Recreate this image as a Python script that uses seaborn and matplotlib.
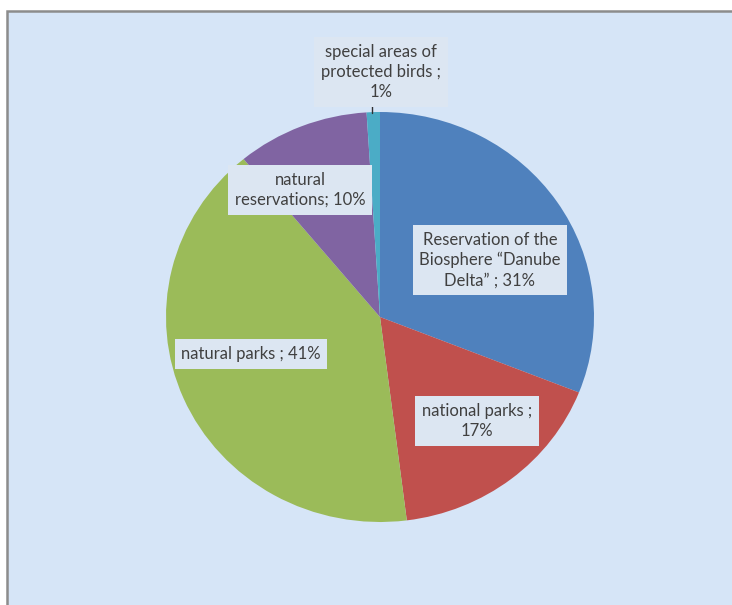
import matplotlib
matplotlib.use("Agg")
import matplotlib.pyplot as plt
import seaborn as sns

sns.set_style("white")
plt.rcParams["font.family"] = ["Lato", "DejaVu Sans"]

# Protected area categories and their shares (%)
categories = [
    "Reservation of the\nBiosphere \u201cDanube\nDelta\u201d",
    "national parks",
    "natural parks",
    "natural\nreservations",
    "special areas of\nprotected birds",
]
shares = [31, 17, 41, 10, 1]
colors = ["#4F81BD", "#C0504D", "#9BBB59", "#8064A2", "#4BACC6"]

# Separator between name and value, per label
separators = [" ; ", " ;\n", " ; ", "; ", " ;\n"]

W, H = 732, 605
fig = plt.figure(figsize=(W / 100, H / 100), dpi=100)
fig.patch.set_facecolor("white")

# Background panel with grey frame
bg = fig.add_axes([0, 0, 1, 1])
bg.set_xlim(0, W)
bg.set_ylim(H, 0)
bg.axis("off")
bg.add_patch(plt.Rectangle((7, 11), W + 40, H + 40, facecolor="#D6E5F7",
                           edgecolor="#8C8C8C", linewidth=1.8))

# Pie area (slightly wider than tall)
cx, cy, rx, ry = 380, 317, 214, 205
pie_ax = fig.add_axes([(cx - rx) / W, (H - cy - ry) / H, 2 * rx / W, 2 * ry / H])
pie_ax.set_facecolor("none")
pie_ax.pie(shares, colors=colors, startangle=90, counterclock=False,
           radius=1.0, wedgeprops=dict(linewidth=0))
pie_ax.set_aspect("auto")
pie_ax.set_xlim(-1, 1)
pie_ax.set_ylim(-1, 1)
pie_ax.axis("off")

# Overlay for data labels, in pixel coordinates
top = fig.add_axes([0, 0, 1, 1])
top.set_xlim(0, W)
top.set_ylim(H, 0)
top.axis("off")
top.patch.set_alpha(0)

label_pos = [(490, 260), (477, 421), (251, 354), (300, 190), (381, 72)]
for cat, val, sep, (x, y) in zip(categories, shares, separators, label_pos):
    text = "{}{}{}%".format(cat, sep, val)
    top.text(x, y, text, ha="center", va="center", fontsize=12,
             color="#404040", linespacing=1.3,
             bbox=dict(boxstyle="square,pad=0.4", facecolor="#DCE6F2",
                       edgecolor="none"))

# Leader line for the smallest slice
top.plot([372, 372], [104, 113], color="#303030", linewidth=1)

fig.savefig("out.png", dpi=100, facecolor="white")
